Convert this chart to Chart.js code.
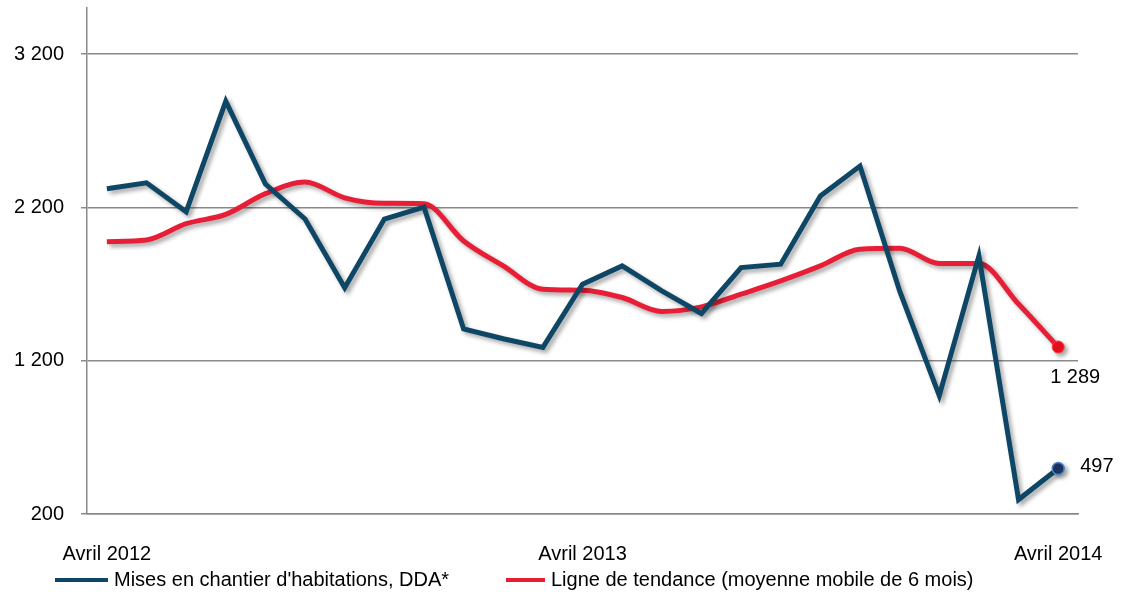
<!DOCTYPE html>
<html>
<head>
<meta charset="utf-8">
<script src="https://cdn.jsdelivr.net/npm/chart.js@4/dist/chart.umd.min.js"></script>
<style>
    html, body { margin: 0; padding: 0; background: #fff; }
    #wrap { width: 1132px; height: 601px; }
</style>
</head>
<body>
<div id="wrap"><canvas id="chart"></canvas></div>
<script>
const months = [
    'Avril 2012', 'Mai 2012', 'Juin 2012', 'Juillet 2012', 'Août 2012', 'Septembre 2012',
    'Octobre 2012', 'Novembre 2012', 'Décembre 2012', 'Janvier 2013', 'Février 2013', 'Mars 2013',
    'Avril 2013', 'Mai 2013', 'Juin 2013', 'Juillet 2013', 'Août 2013', 'Septembre 2013',
    'Octobre 2013', 'Novembre 2013', 'Décembre 2013', 'Janvier 2014', 'Février 2014', 'Mars 2014',
    'Avril 2014'
];
const shownLabels = ['Avril 2012', 'Avril 2013', 'Avril 2014'];

const misesEnChantier = [
    2321, 2360, 2171, 2892, 2352, 2124, 1675, 2124, 2202, 1407, 1343, 1287,
    1699, 1818, 1655, 1508, 1807, 1829, 2274, 2469, 1655, 972, 1883, 294, 497
];
const tendance = [
    1976, 1987, 2093, 2154, 2289, 2365, 2262, 2226, 2224, 1981, 1818, 1666,
    1660, 1612, 1521, 1551, 1634, 1720, 1818, 1927, 1933, 1833, 1833, 1569, 1289
];
const yTicks = [200, 1200, 2200, 3200];

const seriesNames = ["Mises en chantier d'habitations, DDA*", 'Ligne de tendance (moyenne mobile de 6 mois)'];

const BLUE = '#0e4666';
const RED = '#e81e37';
const FONT = "'Liberation Sans', Arial, sans-serif";
const last = months.length - 1;

function fmt(v) {
    return String(v).replace(/\B(?=(\d{3})+(?!\d))/g, ' ');
}

// ombre portée sous les courbes
const shadowPlugin = {
    id: 'shadow',
    beforeDatasetDraw(chart) {
        const ctx = chart.ctx;
        ctx.save();
        ctx.shadowColor = 'rgba(0,0,0,0.35)';
        ctx.shadowBlur = 4;
        ctx.shadowOffsetX = 3;
        ctx.shadowOffsetY = 3;
    },
    afterDatasetDraw(chart) {
        chart.ctx.restore();
    }
};

// étiquettes des dernières valeurs
const lastValuePlugin = {
    id: 'lastValue',
    afterDatasetsDraw(chart) {
        const ctx = chart.ctx;
        ctx.save();
        ctx.font = '20px ' + FONT;
        ctx.fillStyle = '#000';
        ctx.textBaseline = 'middle';

        const blue = chart.getDatasetMeta(0).data[last];
        ctx.textAlign = 'left';
        ctx.fillText(fmt(misesEnChantier[last]), blue.x + 22, blue.y - 2);

        const red = chart.getDatasetMeta(1).data[last];
        ctx.textAlign = 'center';
        ctx.fillText(fmt(tendance[last]), red.x + 17, red.y + 30);
        ctx.restore();
    }
};

// légende en bas, une ligne par série
const legendPlugin = {
    id: 'bottomLegend',
    afterDraw(chart) {
        const ctx = chart.ctx;
        const y = 580;
        const items = [
            { color: BLUE, x0: 55, x1: 108, text: seriesNames[0] },
            { color: RED, x0: 506, x1: 545, text: seriesNames[1] }
        ];
        ctx.save();
        ctx.font = '20px ' + FONT;
        ctx.textBaseline = 'middle';
        ctx.textAlign = 'left';
        items.forEach(it => {
            ctx.fillStyle = it.color;
            ctx.fillRect(it.x0, y - 2, it.x1 - it.x0, 4);
            ctx.fillStyle = '#000';
            ctx.fillText(it.text, it.x1 + 6, y);
        });
        ctx.restore();
    }
};

new Chart(document.getElementById('chart'), {
    type: 'line',
    data: {
        labels: months,
        datasets: [
            {
                label: seriesNames[0],
                data: misesEnChantier,
                borderColor: BLUE,
                backgroundColor: BLUE,
                borderWidth: 5,
                tension: 0,
                pointRadius: ctx => ctx.dataIndex === last ? 6 : 0,
                pointBackgroundColor: '#1c3866',
                pointBorderColor: '#4f86c6',
                pointBorderWidth: 1.5
            },
            {
                label: seriesNames[1],
                data: tendance,
                borderColor: RED,
                backgroundColor: RED,
                borderWidth: 5,
                cubicInterpolationMode: 'monotone',
                pointRadius: ctx => ctx.dataIndex === last ? 6 : 0,
                pointBackgroundColor: '#f01020',
                pointBorderColor: '#ff3a3a',
                pointBorderWidth: 1
            }
        ]
    },
    options: {
        responsive: true,
        maintainAspectRatio: false,
        animation: false,
        layout: { padding: { left: 14, right: 54, top: 8, bottom: 7 } },
        plugins: {
            tooltip: { enabled: false },
            legend: { display: false }
        },
        scales: {
            x: {
                offset: true,
                afterFit: s => { s.paddingLeft = 0; s.paddingRight = 0; },
                grid: { display: false, drawTicks: false },
                border: { display: true, color: '#8a8a8a', width: 1.5 },
                ticks: {
                    autoSkip: false,
                    maxRotation: 0,
                    padding: 28,
                    color: '#000',
                    font: { family: FONT, size: 20 },
                    callback: function (value, index) {
                        const lab = this.getLabelForValue(value);
                        return shownLabels.includes(lab) ? lab : '';
                    }
                }
            },
            y: {
                min: 200,
                max: 3500,
                afterBuildTicks: scale => { scale.ticks = yTicks.map(v => ({ value: v })); },
                afterFit: s => {
                    s.paddingTop = 0;
                    s.paddingBottom = 0;
                    s.width -= s.options.ticks.padding;
                },
                grid: { color: '#8a8a8a', lineWidth: 1.5, tickLength: 6 },
                border: { display: true, color: '#8a8a8a', width: 1.5 },
                ticks: {
                    padding: 17,
                    color: '#000',
                    font: { family: FONT, size: 20 },
                    callback: v => fmt(v)
                }
            }
        }
    },
    plugins: [shadowPlugin, lastValuePlugin, legendPlugin]
});
</script>
</body>
</html>
